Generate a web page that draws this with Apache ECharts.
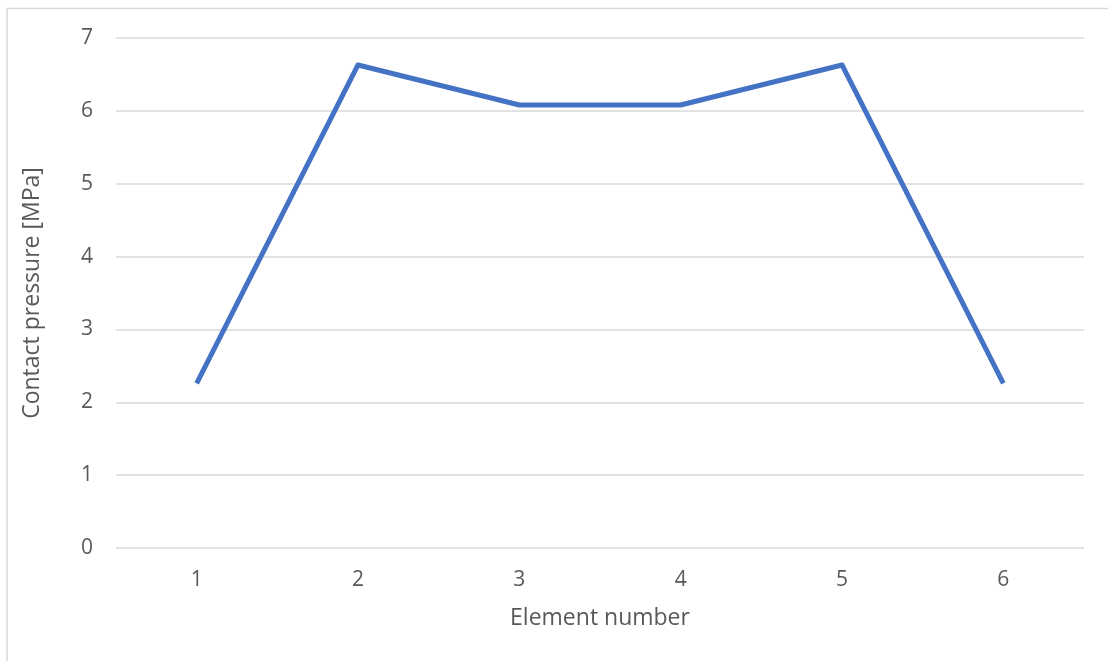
<!DOCTYPE html>
<html>
<head>
<meta charset="utf-8">
<script src="https://cdn.jsdelivr.net/npm/echarts@6/dist/echarts.min.js"></script>
<style>
  html, body { margin: 0; padding: 0; background: #fff; }
  #chart { width: 1108px; height: 661px; }
</style>
</head>
<body>
<div id="chart"></div>
<script>
// Element numbers along the contact surface
const elements = ['1', '2', '3', '4', '5', '6'];
// Contact pressure per element [MPa]
const pressure = [2.26, 6.63, 6.08, 6.08, 6.63, 2.26];
// Y axis range
const yMin = 0, yMax = 7, yStep = 1;

const chart = echarts.init(document.getElementById('chart'), null, { renderer: 'canvas' });
const font = "'Open Sans', 'Noto Sans', sans-serif";

chart.setOption({
  animation: false,
  backgroundColor: '#ffffff',
  graphic: [{
    type: 'rect',
    shape: { x: 7, y: 8.5, width: 1200, height: 800 },
    style: { fill: 'none', stroke: '#d9d9d9', lineWidth: 1.5 },
    silent: true
  }],
  grid: { left: 116, right: 24, top: 38, bottom: 113 },
  xAxis: {
    type: 'category',
    data: elements,
    boundaryGap: true,
    name: 'Element number',
    nameLocation: 'middle',
    nameGap: 59,
    nameTextStyle: { color: '#595959', fontSize: 23, fontFamily: font },
    axisLine: { show: false },
    axisTick: { show: false },
    axisLabel: { color: '#595959', fontSize: 21, fontFamily: font, margin: 22 }
  },
  yAxis: {
    type: 'value',
    min: yMin, max: yMax, interval: yStep,
    name: 'Contact pressure [MPa]',
    nameLocation: 'middle',
    nameGap: 72,
    nameTextStyle: { color: '#595959', fontSize: 23, fontFamily: font },
    axisLine: { show: false },
    axisTick: { show: false },
    axisLabel: { color: '#595959', fontSize: 21, fontFamily: font, margin: 23 },
    splitLine: { lineStyle: { color: '#d9d9d9', width: 1.5 } }
  },
  series: [{
    type: 'line',
    data: pressure,
    showSymbol: false,
    lineStyle: { color: '#4472c4', width: 5, join: 'round' },
    itemStyle: { color: '#4472c4' }
  }]
});
</script>
</body>
</html>
